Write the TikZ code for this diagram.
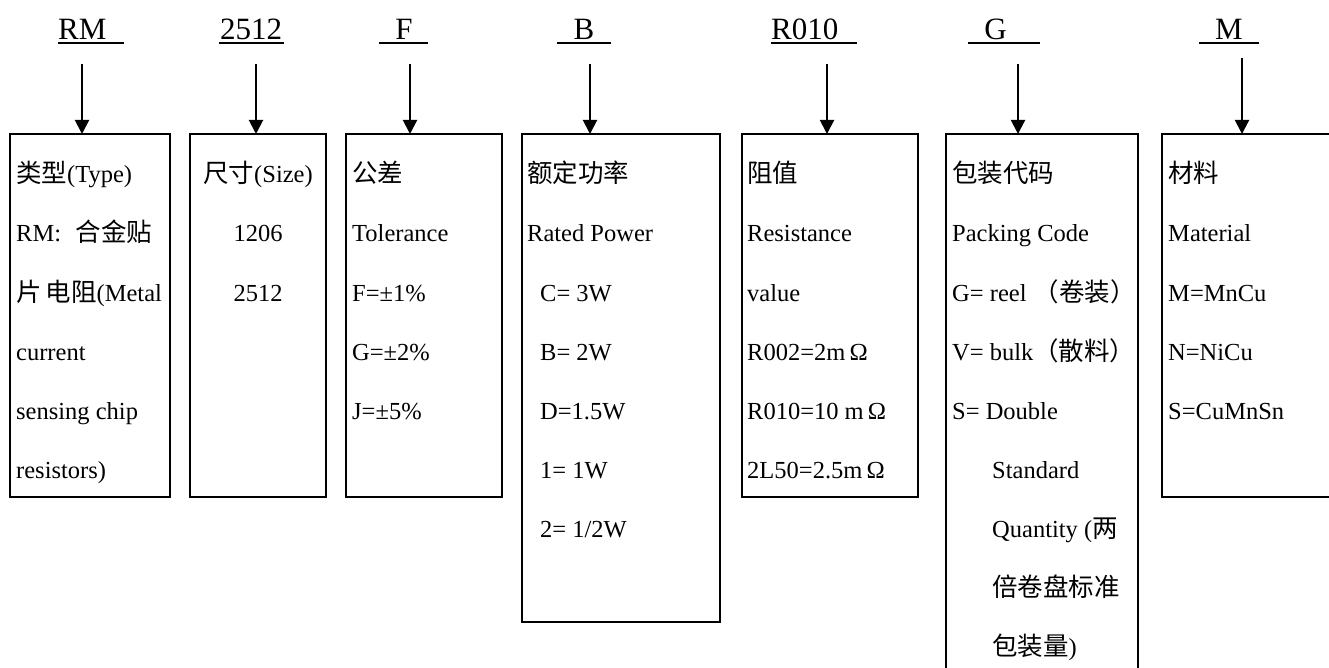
\documentclass[tikz,border=0pt]{standalone}
\usepackage{fontspec}
\setmainfont{Liberation Serif}
\newfontfamily\cjkf[Scale=1.04]{Noto Sans CJK SC}
\newcommand\zh[1]{{\cjkf #1}}
\usetikzlibrary{arrows.meta}
\begin{document}
\begin{tikzpicture}[x=1pt,y=-1pt,
  box/.style={draw=black, line width=2pt, rectangle, inner sep=0pt, outer sep=0pt, anchor=north west},
  hdr/.style={font=\fontsize{31}{36}\selectfont, inner sep=0pt},
  body/.style={font=\fontsize{24.5}{30}\selectfont, inner sep=0pt, anchor=base west},
  bodyc/.style={body, anchor=base},
  uline/.style={line width=1.5pt},
  arr/.style={line width=2pt, -{Triangle[length=14pt,width=14pt]}}
]
\clip (0,0) rectangle (1329,668);
\fill[white] (0,0) rectangle (1329,668);

% header codes
\node[hdr, anchor=base west] (h1) at (58,40) {RM};
\node[hdr, anchor=base west] (h2) at (220,40) {2512};
\node[hdr, anchor=base] (h3) at (404,40) {F};
\node[hdr, anchor=base] (h4) at (584,40) {B};
\node[hdr, anchor=base west] (h5) at (771,40) {R010};
\node[hdr, anchor=base] (h6) at (995.5,40) {G};
\node[hdr, anchor=base] (h7) at (1229,40) {M};
\draw[uline] (58,43) -- (124,43);
\draw[uline] (219,43) -- (284,43);
\draw[uline] (379,43) -- (428,43);
\draw[uline] (557,43) -- (611,43);
\draw[uline] (771,43) -- (857,43);
\draw[uline] (968,43) -- (1040,43);
\draw[uline] (1199,43) -- (1259,43);

% boxes
\node[box, minimum width=160pt, minimum height=363pt] (b1) at (10,134) {};
\node[box, minimum width=136pt, minimum height=363pt] (b2) at (190,134) {};
\node[box, minimum width=156pt, minimum height=363pt] (b3) at (346,134) {};
\node[box, minimum width=198pt, minimum height=488pt] (b4) at (522,134) {};
\node[box, minimum width=176pt, minimum height=363pt] (b5) at (742,134) {};
\node[box, minimum width=192pt, minimum height=570pt] (b6) at (946,134) {};
\node[box, minimum width=190pt, minimum height=363pt] (b7) at (1162,134) {};

% arrows
\coordinate (s1) at (82,64);
\coordinate (s2) at (256,64);
\coordinate (s3) at (410,64);
\coordinate (s4) at (590,64);
\coordinate (s5) at (827,64);
\coordinate (s6) at (1018,64);
\coordinate (s7) at (1242,58);
\draw[arr] (s1) -- (s1 |- b1.north);
\draw[arr] (s2) -- (s2 |- b2.north);
\draw[arr] (s3) -- (s3 |- b3.north);
\draw[arr] (s4) -- (s4 |- b4.north);
\draw[arr] (s5) -- (s5 |- b5.north);
\draw[arr] (s6) -- (s6 |- b6.north);
\draw[arr] (s7) -- (s7 |- b7.north);

% box texts
\foreach \t [count=\i from 0] in {{\zh{类型}(Type)}, {RM:\hspace{0.6em}\zh{合金贴}}, {\zh{片}\hspace{4pt}\zh{电阻}(Metal}, {current}, {sensing chip}, {resistors)}}
  \node[body, name=ta-\i] at (16,183+59*\i) {\t};
\foreach \t [count=\i from 0] in {{\zh{尺寸}(Size)}, {1206}, {2512}}
  \node[bodyc, name=tb-\i] at (258,183+59*\i) {\t};
\foreach \t [count=\i from 0] in {{\zh{公差}}, {Tolerance}, {F=±1\%}, {G=±2\%}, {J=±5\%}}
  \node[body, name=tc-\i] at (352,183+59*\i) {\t};
\foreach \t [count=\i from 0] in {{\zh{额定功率}}, {Rated Power}}
  \node[body, name=td-\i] at (527,183+59*\i) {\t};
\foreach \t [count=\i from 2] in {{C= 3W}, {B= 2W}, {D=1.5W}, {1= 1W}, {2= 1/2W}}
  \node[body, name=td-\i] at (540,183+59*\i) {\t};
\foreach \t [count=\i from 0] in {{\zh{阻值}}, {Resistance}, {value}, {R002=2m\,Ω}, {R010=10 m\,Ω}, {2L50=2.5m\,Ω}}
  \node[body, name=te-\i] at (747,183+59*\i) {\t};
\foreach \t [count=\i from 0] in {{\zh{包装代码}}, {Packing Code}, {G= reel\hspace{7pt}\zh{（卷装）}}, {V= bulk\zh{（散料）}}, {S= Double}}
  \node[body, name=tf-\i] at (952,183+59*\i) {\t};
\foreach \t [count=\i from 5] in {{Standard}, {Quantity (\zh{两}}, {\zh{倍卷盘标准}}, {\zh{包装量})}}
  \node[body, name=tf-\i] at (992,183+59*\i) {\t};
\foreach \t [count=\i from 0] in {{\zh{材料}}, {Material}, {M=MnCu}, {N=NiCu}, {S=CuMnSn}}
  \node[body, name=tg-\i] at (1168,183+59*\i) {\t};
\end{tikzpicture}
\end{document}
